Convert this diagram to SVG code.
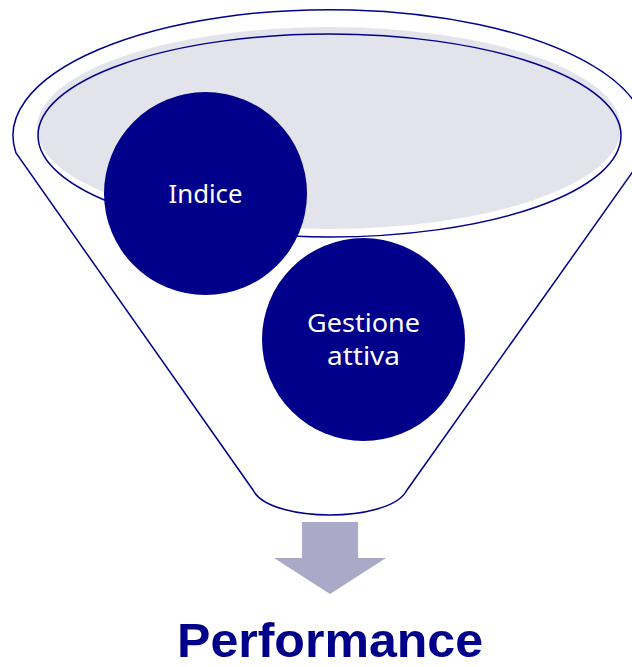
<svg xmlns="http://www.w3.org/2000/svg" width="632" height="667" viewBox="0 0 632 667">
<style>
.line{fill:none;stroke:#00008B;stroke-width:1.5}
.circ{fill:#00008B}
.lbl{font-family:"Noto Sans","Open Sans",sans-serif;fill:#FFFFFF;font-size:26px;text-anchor:middle}
.title{font-family:"Liberation Sans","Noto Sans",sans-serif;fill:#00008B;font-size:48px;font-weight:bold;text-anchor:middle}
</style>
<rect width="632" height="667" fill="#FFFFFF"/>
<g id="funnel">
<path class="line" d="M16,153 A316.5,126 0 1 1 634,170 L407,490 C398,508 360,515 330,515 C300,515 262,508 253,490 Z"/>
<ellipse cx="329" cy="128" rx="292" ry="101" fill="#E3E3EC"/>
<ellipse class="line" cx="329.5" cy="135.5" rx="291.5" ry="101.5"/>
</g>
<g id="indice">
<circle class="circ" cx="205.5" cy="193.5" r="101.5"/>
<text class="lbl" x="205.5" y="203" textLength="74" lengthAdjust="spacingAndGlyphs">Indice</text>
</g>
<g id="gestione">
<circle class="circ" cx="363.5" cy="339.5" r="101.5"/>
<text class="lbl" x="363.5" y="332" textLength="113" lengthAdjust="spacingAndGlyphs">Gestione</text>
<text class="lbl" x="363.5" y="365" textLength="73" lengthAdjust="spacingAndGlyphs">attiva</text>
</g>
<g id="connectors">
<path d="M302,522 L358,522 L358,558 L386,558 L330,594 L274,558 L302,558 Z" fill="#AAAAC8"/>
</g>
<g id="performance">
<text class="title" x="330" y="657" textLength="306" lengthAdjust="spacingAndGlyphs">Performance</text>
</g>
</svg>
